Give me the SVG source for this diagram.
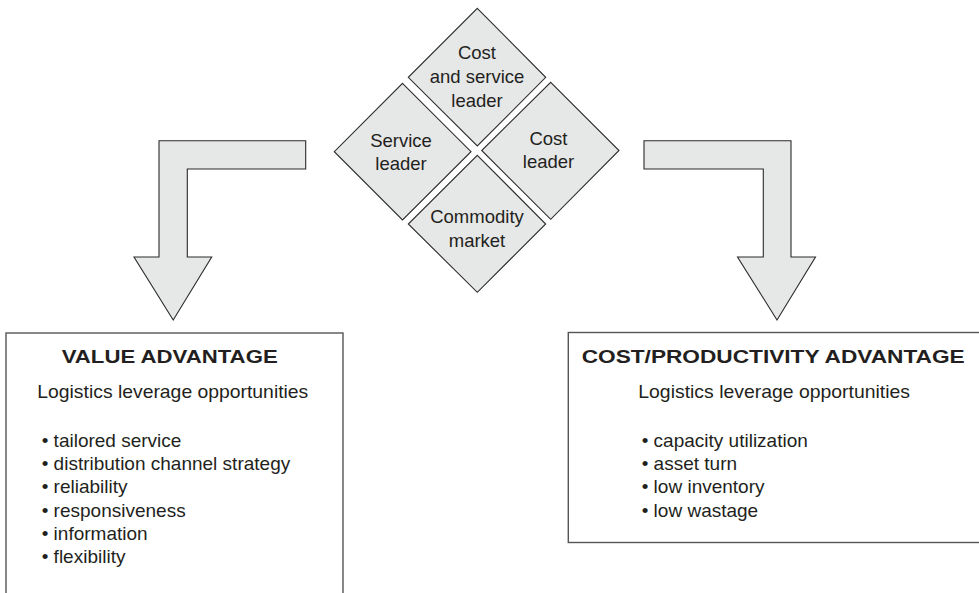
<svg xmlns="http://www.w3.org/2000/svg" width="979" height="593" viewBox="0 0 979 593">
<style>
.dia{fill:#e6e7e7;stroke:#2b2b2b;stroke-width:1.1}
.arr{fill:#e6e7e7;stroke:#2b2b2b;stroke-width:1.1}
.box{fill:#ffffff;stroke:#555;stroke-width:1.4}
.lbl{font-family:"Liberation Sans",Arial,sans-serif;font-size:18.5px;fill:#231f20;text-anchor:middle}
.ttl{font-family:"Liberation Sans",Arial,sans-serif;font-size:18px;font-weight:bold;fill:#231f20}
.txt{font-family:"Liberation Sans",Arial,sans-serif;font-size:19px;fill:#231f20}
</style>
<rect width="979" height="593" fill="#ffffff"/>
<g id="connectors">
  <path class="arr" d="M305.7,140.7 L159,140.7 L159,257 L134,257 L173.2,320 L211.7,257 L187.3,257 L187.3,169 L305.7,169 Z"/>
  <path class="arr" d="M644,140.7 L791,140.7 L791,257 L815.5,257 L777,320 L737.5,257 L763.3,257 L763.3,169 L644,169 Z"/>
</g>
<g id="cost-and-service-leader">
  <polygon class="dia" points="477.3,8.3 545.7,77.3 477.3,146 408.3,77.3"/>
  <text class="lbl" x="477" y="59.3">Cost</text>
  <text class="lbl" x="477" y="83.3">and service</text>
  <text class="lbl" x="477" y="107.3">leader</text>
</g>
<g id="service-leader">
  <polygon class="dia" points="402.5,83.3 471,151.7 402.5,220 334.3,151.7"/>
  <text class="lbl" x="401" y="146.7">Service</text>
  <text class="lbl" x="401" y="170">leader</text>
</g>
<g id="cost-leader">
  <polygon class="dia" points="550.7,82.3 619,150.5 550.7,219.3 481.7,150.5"/>
  <text class="lbl" x="548.5" y="145">Cost</text>
  <text class="lbl" x="548.5" y="168.3">leader</text>
</g>
<g id="commodity-market">
  <polygon class="dia" points="477.3,155.3 545.7,224 477.3,292.3 408.3,224"/>
  <text class="lbl" x="477" y="222.7">Commodity</text>
  <text class="lbl" x="477" y="246.7">market</text>
</g>
<g id="value-advantage">
  <rect class="box" x="6" y="333" width="337" height="280"/>
  <text class="ttl" x="61.7" y="362.7" textLength="216" lengthAdjust="spacingAndGlyphs">VALUE ADVANTAGE</text>
  <text class="txt" x="37.3" y="398.3" textLength="271" lengthAdjust="spacingAndGlyphs">Logistics leverage opportunities</text>
  <text class="txt" x="41.7" y="446.7">• tailored service</text>
  <text class="txt" x="41.7" y="470">• distribution channel strategy</text>
  <text class="txt" x="41.7" y="493.3">• reliability</text>
  <text class="txt" x="41.7" y="516.7">• responsiveness</text>
  <text class="txt" x="41.7" y="540">• information</text>
  <text class="txt" x="41.7" y="563.3">• flexibility</text>
</g>
<g id="cost-productivity-advantage">
  <rect class="box" x="568.3" y="332.5" width="420" height="210"/>
  <text class="ttl" x="581.7" y="362.7" textLength="383" lengthAdjust="spacingAndGlyphs">COST/PRODUCTIVITY ADVANTAGE</text>
  <text class="txt" x="638.3" y="398.3" textLength="271.7" lengthAdjust="spacingAndGlyphs">Logistics leverage opportunities</text>
  <text class="txt" x="641.7" y="446.7">• capacity utilization</text>
  <text class="txt" x="641.7" y="470">• asset turn</text>
  <text class="txt" x="641.7" y="493.3">• low inventory</text>
  <text class="txt" x="641.7" y="516.7">• low wastage</text>
</g>
</svg>
